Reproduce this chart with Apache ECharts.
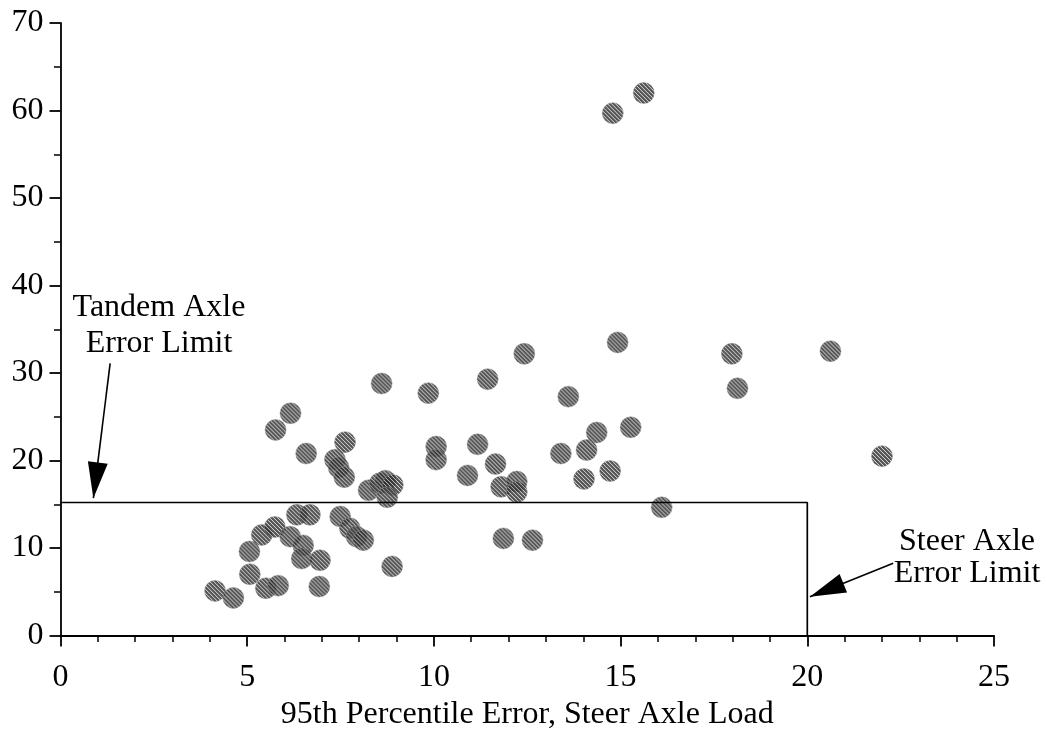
<!DOCTYPE html>
<html>
<head>
<meta charset="utf-8">
<script src="https://cdn.jsdelivr.net/npm/echarts@6/dist/echarts.min.js"></script>
<style>
html,body{margin:0;padding:0;background:#fff;}
#chart{width:1047px;height:737px;}
</style>
</head>
<body>
<div id="chart"></div>
<script>
// ---- data ----
const xValues = [
  14.79, 15.62,
  9.85, 11.44, 12.42, 14.92, 13.6,
  10.06, 10.06, 11.17, 10.9, 11.65, 11.8, 12.22, 12.22,
  13.4, 14.09, 14.36, 15.27, 14.02, 14.72, 16.1,
  11.86, 12.64,
  17.98, 18.13, 20.62, 22.0,
  6.16, 5.76, 6.58, 7.62, 7.35, 7.45, 7.6, 8.6,
  8.25, 8.55, 8.7, 8.9, 8.75,
  4.14, 4.63, 5.07, 5.06, 5.5, 5.83, 5.39, 5.74, 6.33, 6.68,
  6.15, 6.5, 6.46, 6.95, 6.93, 7.49, 7.75, 7.93, 8.11, 8.88
];
const yValues = [
  59.7, 62.0,
  27.7, 29.3, 32.2, 33.5, 27.3,
  21.6, 20.1, 21.85, 18.3, 19.6, 17.0, 17.6, 16.4,
  20.8, 21.2, 23.2, 23.8, 17.9, 18.8, 14.65,
  11.1, 10.9,
  32.2, 28.25, 32.5, 20.5,
  25.4, 23.5, 20.8, 22.1, 20.1, 19.2, 18.1, 28.8,
  16.6, 17.4, 17.7, 17.2, 15.8,
  5.1, 4.3, 7.0, 9.6, 5.4, 5.7, 11.5, 12.4, 13.8, 13.8,
  11.3, 10.3, 8.8, 8.6, 5.6, 13.6, 12.25, 11.3, 10.9, 7.9
];
const limitX = [0, 20, 20];
const limitY = [15.2, 15.2, 0];
const tandemArrow = [[1.33, 31.1], [0.88, 15.7]];
const steerArrow = [[22.3, 8.25], [20.07, 4.43]];
const xTitle = '95th Percentile Error, Steer Axle Load';
const tandemLabel = ['Tandem Axle', 'Error Limit'];
const steerLabel = ['Steer Axle', 'Error Limit'];

// ---- hatch pattern ----
const SYM = 21;
const pat = document.createElement('canvas');
pat.width = 4; pat.height = 4;
const pc = pat.getContext('2d');
pc.fillStyle = '#2a2a2a';
pc.fillRect(0, 0, 4, 4);
pc.fillStyle = '#d8d8d8';
for (let i = 0; i < 4; i++) pc.fillRect(i, i, 1, 1);

const points = xValues.map((x, i) => [x, yValues[i]]);
const limitData = limitX.map((x, i) => [x, limitY[i]]);

const FONT = '"Liberation Serif", "Times New Roman", serif';
const FS = 32;

const chart = echarts.init(document.getElementById('chart'), null, {renderer: 'canvas'});
chart.setOption({
  animation: false,
  backgroundColor: '#fff',
  grid: {left: 60.5, right: 53, top: 23, bottom: 101.5, containLabel: false, outerBoundsMode: 'none'},
  xAxis: {
    type: 'value', min: 0, max: 25, interval: 5,
    name: xTitle, nameLocation: 'middle', nameGap: 63,
    nameTextStyle: {fontFamily: FONT, fontSize: FS, color: '#000'},
    axisLine: {lineStyle: {color: '#000', width: 1.8}},
    axisTick: {show: true, length: 11, lineStyle: {color: '#000', width: 1.8}},
    minorTick: {show: true, splitNumber: 5, length: 6.5, lineStyle: {color: '#000', width: 1.5}},
    axisLabel: {fontFamily: FONT, fontSize: FS, color: '#000', margin: 26},
    splitLine: {show: false}
  },
  yAxis: {
    type: 'value', min: 0, max: 70, interval: 10,
    axisLine: {show: true, lineStyle: {color: '#000', width: 1.8}},
    axisTick: {show: true, length: 11, lineStyle: {color: '#000', width: 1.8}},
    minorTick: {show: true, splitNumber: 2, length: 6.5, lineStyle: {color: '#000', width: 1.5}},
    axisLabel: {fontFamily: FONT, fontSize: FS, color: '#000', margin: 17},
    splitLine: {show: false}
  },
  series: [
    {
      type: 'scatter',
      data: points,
      symbol: 'circle',
      symbolSize: SYM,
      itemStyle: {
        color: {image: pat, repeat: 'repeat', scaleX: 2 / SYM, scaleY: 2 / SYM},
        borderColor: '#8a8a8a', borderWidth: 0.6
      },
      emphasis: {disabled: true},
      z: 2
    },
    {
      type: 'line',
      data: limitData,
      symbol: 'none',
      lineStyle: {color: '#000', width: 1.7},
      z: 3,
      markLine: {
        silent: true,
        symbol: ['none', 'triangle'],
        symbolSize: [20, 36],
        symbolOffset: [0, [0, 18]],
        lineStyle: {color: '#000', width: 1.6, type: 'solid'},
        label: {show: false},
        emphasis: {disabled: true},
        data: [
          [{coord: tandemArrow[0]}, {coord: tandemArrow[1]}],
          [{coord: steerArrow[0]}, {coord: steerArrow[1]}]
        ]
      }
    }
  ],
  graphic: [
    {type: 'text', x: 159, y: 308, style: {text: tandemLabel[0], font: FS + 'px ' + FONT, fill: '#000', align: 'center', verticalAlign: 'middle'}},
    {type: 'text', x: 159, y: 344, style: {text: tandemLabel[1], font: FS + 'px ' + FONT, fill: '#000', align: 'center', verticalAlign: 'middle'}},
    {type: 'text', x: 967, y: 542, style: {text: steerLabel[0], font: FS + 'px ' + FONT, fill: '#000', align: 'center', verticalAlign: 'middle'}},
    {type: 'text', x: 967, y: 574, style: {text: steerLabel[1], font: FS + 'px ' + FONT, fill: '#000', align: 'center', verticalAlign: 'middle'}}
  ]
});
</script>
</body>
</html>
